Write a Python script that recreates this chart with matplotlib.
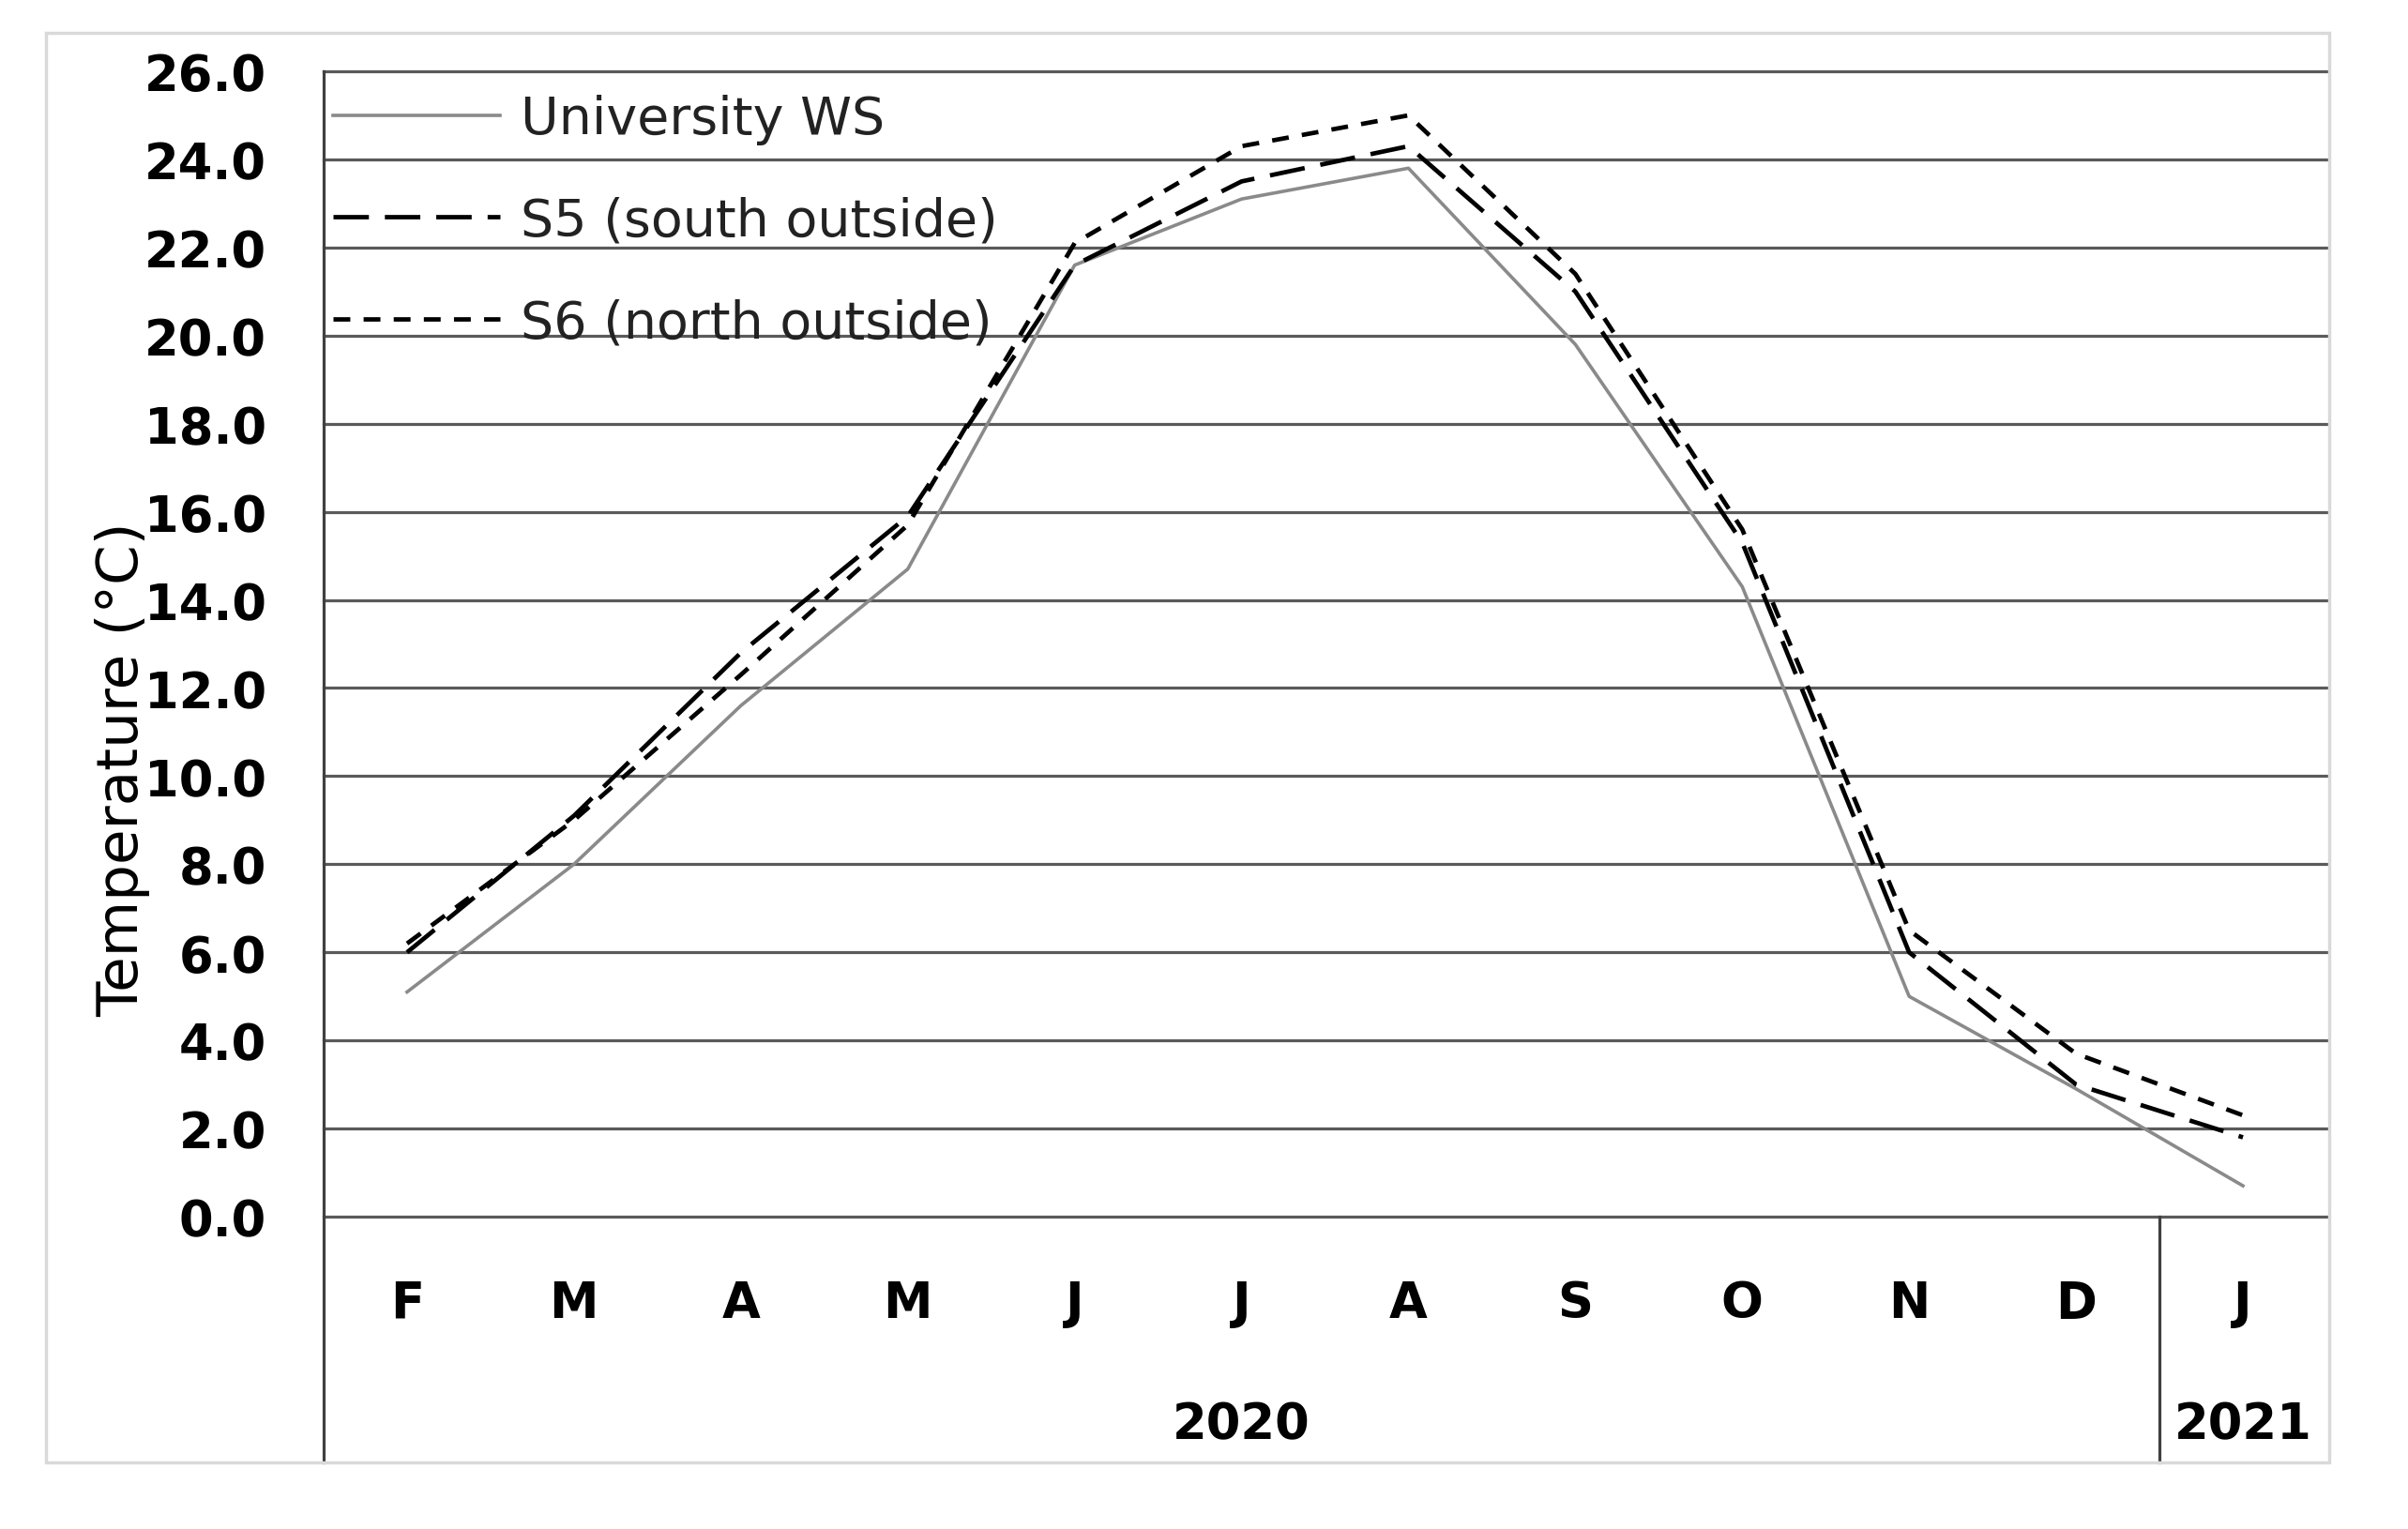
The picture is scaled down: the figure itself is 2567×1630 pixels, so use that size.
import matplotlib
matplotlib.use("Agg")
import matplotlib.pyplot as plt
from matplotlib.lines import Line2D
from matplotlib.patches import Rectangle

# ---- data ----
months = ["F", "M", "A", "M", "J", "J", "A", "S", "O", "N", "D", "J"]
years = ["2020", "2021"]
months_per_year = [11, 1]
yticks = [0, 2, 4, 6, 8, 10, 12, 14, 16, 18, 20, 22, 24, 26]

university_ws = [5.1, 8.0, 11.6, 14.7, 21.6, 23.1, 23.8, 19.8, 14.3, 5.0, 2.9, 0.7]
s5_south = [6.0, 9.1, 12.8, 15.9, 21.6, 23.5, 24.3, 21.0, 15.3, 6.0, 3.0, 1.8]
s6_north = [6.2, 9.0, 12.3, 15.7, 22.1, 24.3, 25.0, 21.4, 15.6, 6.5, 3.7, 2.3]

labels = ["University WS", "S5 (south outside)", "S6 (north outside)"]

# ---- figure ----
W, H = 2567, 1631
fig = plt.figure(figsize=(W / 100, H / 100), dpi=100)
fig.patch.set_facecolor("white")

ax_l, ax_r, ax_t, ax_b = 345, 2480, 77, 1298
ax = fig.add_axes([ax_l / W, 1 - ax_b / H, (ax_r - ax_l) / W, (ax_b - ax_t) / H])

x = list(range(len(months)))
ax.plot(x, university_ws, color="#8a8a8a", lw=2.6, label=labels[0], zorder=3)
ax.plot(x, s5_south, color="black", lw=3.4, linestyle=(0, (8, 3.6)), label=labels[1], zorder=4)
ax.plot(x, s6_north, color="black", lw=3.4, linestyle=(0, (3.8, 3.0)), label=labels[2], zorder=4)

ax.set_xlim(-0.5, len(months) - 0.5)
ax.set_ylim(0, 26)
for s in ax.spines.values():
    s.set_visible(False)

grid_c = "#5a5a5a"
for v in yticks:
    ax.axhline(v, color=grid_c, lw=2.3, clip_on=False, zorder=1)

ax.set_yticks(yticks)
ax.set_yticklabels([f"{v:.1f}" for v in yticks], fontsize=38, fontweight="bold")
ax.tick_params(axis="y", length=0, pad=44)
ax.set_xticks([])

cat_bottom = (ax_b - 1560) / (ax_b - ax_t)
ax.add_line(Line2D([0, 0], [1, cat_bottom], transform=ax.transAxes, color="#404040",
                   lw=2.3, clip_on=False, zorder=2))

xt = ax.get_xaxis_transform()
month_y = (ax_b - 1390) / (ax_b - ax_t)
year_y = (ax_b - 1519) / (ax_b - ax_t)
for i, m in enumerate(months):
    ax.text(i, month_y, m, transform=xt, ha="center", va="center",
            fontsize=38, fontweight="bold")

start = 0
for yr, n in zip(years, months_per_year):
    center = start + (n - 1) / 2
    ax.text(center, year_y, yr, transform=xt, ha="center", va="center",
            fontsize=38, fontweight="bold")
    end = start + n
    if end < len(months):
        ax.add_line(Line2D([end - 0.5, end - 0.5], [0, cat_bottom], transform=xt,
                           color="#404040", lw=2.3, clip_on=False, zorder=2))
    start = end

fig.text(131 / W, 1 - 820 / H, "Temperature (°C)", rotation=90, ha="center",
         va="center", fontsize=44)

leg = ax.legend(loc="upper left", bbox_to_anchor=(0.0047, 0.980), frameon=False,
                fontsize=40, handlelength=3.2, handletextpad=0.4, labelspacing=0.98,
                borderaxespad=0, borderpad=0)
for t in leg.get_texts():
    t.set_color("#222222")

fig.add_artist(Rectangle((49 / W, 1 - 1560 / H), (2483 - 49) / W, (1560 - 36) / H,
                         transform=fig.transFigure, fill=False, ec="#d9d9d9", lw=2.5))

fig.savefig("out.png", dpi=100)
